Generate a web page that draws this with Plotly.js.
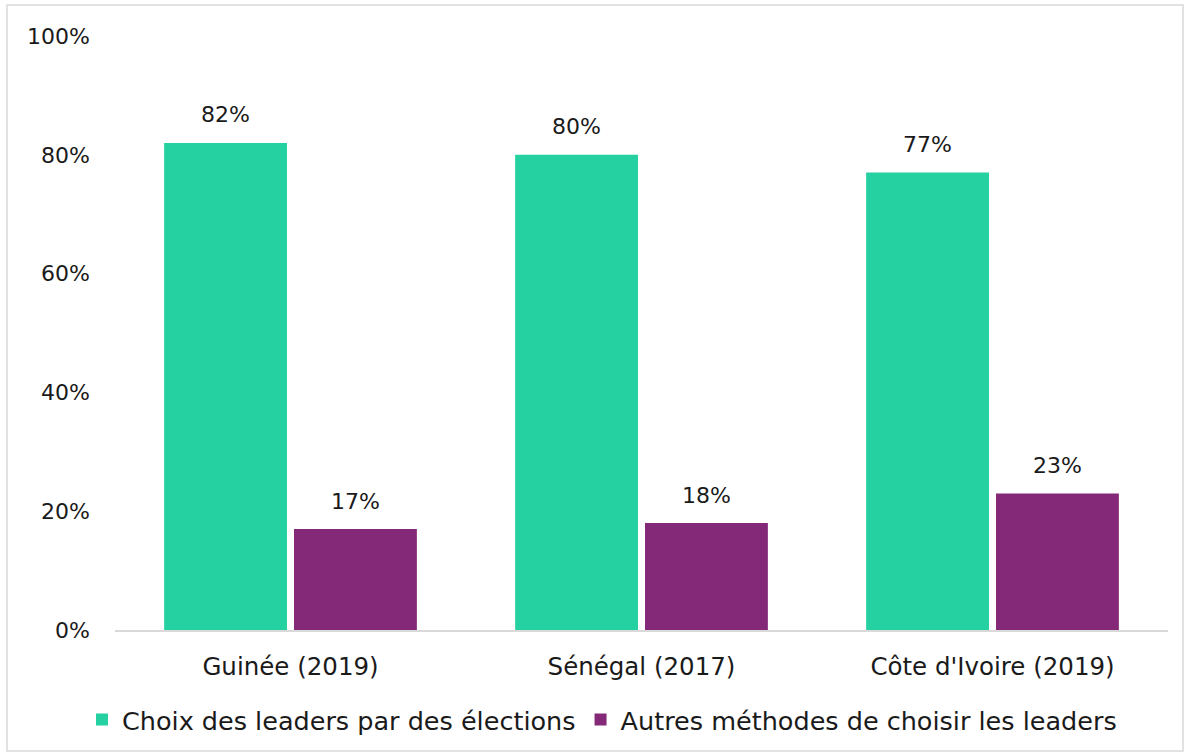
<!DOCTYPE html>
<html>
<head>
<meta charset="utf-8">
<script src="https://cdn.plot.ly/plotly-3.0.1.min.js"></script>
<style>
html,body{margin:0;padding:0;background:#fff;}
#chart{width:1190px;height:756px;}
</style>
</head>
<body>
<div id="chart"></div>
<script>
const categories = ["Guinée (2019)", "Sénégal (2017)", "Côte d'Ivoire (2019)"];
const seriesNames = ["Choix des leaders par des élections", "Autres méthodes de choisir les leaders"];
const electionsValues = [0.82, 0.80, 0.77];
const autresValues = [0.17, 0.18, 0.23];
const yTickValues = [0, 0.2, 0.4, 0.6, 0.8, 1.0];
const yTickLabels = ["0%", "20%", "40%", "60%", "80%", "100%"];

const FONT = "DejaVu Sans, sans-serif";
const TXT = "#1a1a1a";
const colors = ["#25D1A1", "#842878"];

const traces = [
  {type: "bar", name: seriesNames[0], x: categories, y: electionsValues, marker: {color: colors[0]}, hoverinfo: "none"},
  {type: "bar", name: seriesNames[1], x: categories, y: autresValues, marker: {color: colors[1]}, hoverinfo: "none"}
];

const annotations = [];
[electionsValues, autresValues].forEach((vals, si) => {
  vals.forEach((v, i) => {
    annotations.push({
      xref: "x", yref: "y", x: categories[i], y: v,
      text: Math.round(v * 100) + "%",
      showarrow: false, xshift: si === 0 ? -65 : 65, yshift: 28,
      yanchor: "middle", xanchor: "center",
      font: {family: FONT, size: 22, color: TXT}
    });
  });
});

const L = 115, R = 1168, T = 36, B = 630;
const pw = R - L, ph = B - T;
const layout = {
  width: 1190, height: 756,
  margin: {l: L, r: 1190 - R, t: T, b: 756 - B, pad: 0},
  paper_bgcolor: "#ffffff", plot_bgcolor: "#ffffff",
  barmode: "group", bargap: 0.26, bargroupgap: 0.054,
  font: {family: FONT, size: 22, color: TXT},
  xaxis: {
    type: "category", showgrid: false, zeroline: false,
    showline: true, linecolor: "#d9d9d9", linewidth: 2,
    ticks: "", ticklabelstandoff: 14,
    tickfont: {family: FONT, size: 24.5, color: TXT}
  },
  yaxis: {
    range: [0, 1], tickvals: yTickValues, ticktext: yTickLabels,
    showgrid: false, zeroline: false, showline: false, ticks: "",
    ticklabelstandoff: 24,
    tickfont: {family: FONT, size: 22, color: TXT}
  },
  showlegend: true,
  legend: {
    orientation: "h", x: (82 - L) / pw, xanchor: "left",
    y: (B - 720) / ph, yanchor: "middle",
    font: {family: FONT, size: 25.5, color: TXT},
    itemclick: false, itemdoubleclick: false, tracegroupgap: 0
  },
  annotations: annotations,
  shapes: [{
    type: "rect", xref: "paper", yref: "paper",
    x0: (7 - L) / pw, x1: (1183 - L) / pw,
    y0: (B - 751) / ph, y1: (B - 5) / ph,
    line: {color: "#d9d9d9", width: 1.5}, fillcolor: "rgba(0,0,0,0)", layer: "below"
  }]
};

Plotly.newPlot("chart", traces, layout, {displayModeBar: false, staticPlot: true});
</script>
</body>
</html>
